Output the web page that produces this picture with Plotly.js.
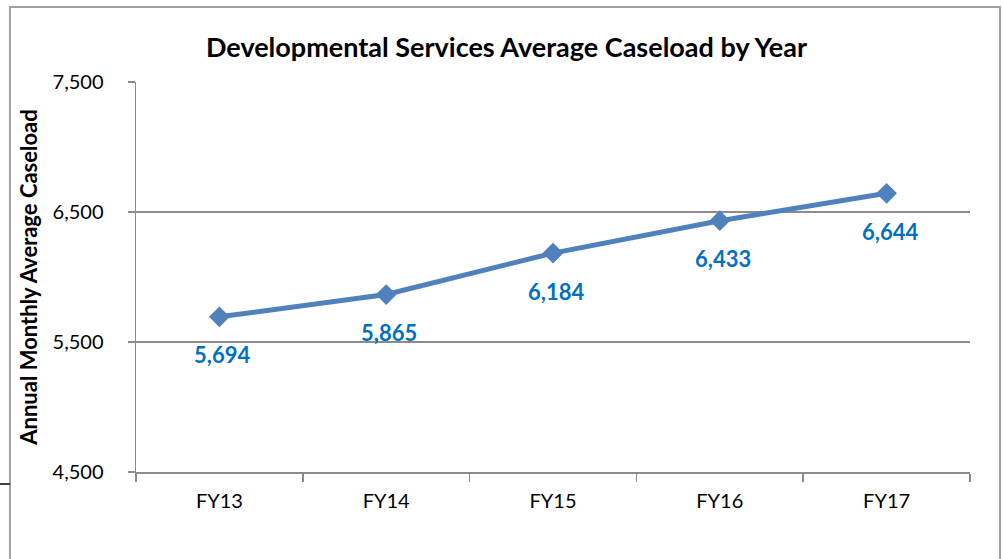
<!DOCTYPE html>
<html>
<head>
<meta charset="utf-8">
<script src="https://cdn.plot.ly/plotly-3.0.1.min.js"></script>
<style>html,body{margin:0;padding:0;background:#fff;}#chart{width:1003px;height:559px;}</style>
</head>
<body>
<div id="chart"></div>
<script>
const years = ["FY13", "FY14", "FY15", "FY16", "FY17"];
const caseload = [5694, 5865, 6184, 6433, 6644];
const yTicks = [4500, 5500, 6500, 7500];
const chartTitle = "Developmental Services Average Caseload by Year";
const yTitle = "Annual Monthly Average Caseload";

const font = "Lato, 'Open Sans', 'Liberation Sans', sans-serif";

const trace = {
  x: years,
  y: caseload,
  type: "scatter",
  mode: "lines+markers",
  line: {color: "#4F81BD", width: 5},
  marker: {symbol: "diamond", size: 16, color: "#4F81BD"},
  hoverinfo: "skip"
};

const annotations = years.map((yr, i) => ({
  x: yr, y: caseload[i], xref: "x", yref: "y",
  text: "<b>" + caseload[i].toLocaleString("en-US") + "</b>",
  showarrow: false, yshift: -38, xshift: 3,
  font: {family: font, size: 22, color: "#0070C0"}
}));

const grey = "#8C8C8C";
const shapes = [
  {type: "rect", xref: "paper", yref: "paper", x0: -0.1511, x1: 1.036, y0: -0.35, y1: 1.1923,
   line: {color: "#A0A0A0", width: 2}, fillcolor: "rgba(0,0,0,0)", layer: "below"},
  {type: "line", xref: "paper", yref: "paper", x0: -0.17, x1: -0.1511, y0: -0.0308, y1: -0.0308,
   line: {color: "#000", width: 1.5}}
];

const layout = {
  width: 1003, height: 559,
  margin: {l: 136, r: 33, t: 82, b: 87},
  paper_bgcolor: "#fff", plot_bgcolor: "#fff",
  showlegend: false,
  title: {text: "<b>" + chartTitle + "</b>", x: 0.505, xanchor: "center", y: 0.915, yanchor: "middle",
          font: {family: font, size: 27, color: "#000"}},
  xaxis: {
    type: "category", range: [-0.5, 4.5],
    showline: true, linecolor: grey, linewidth: 1.5,
    ticks: "outside", tickson: "boundaries", ticklen: 8, tickcolor: grey, tickwidth: 1.5,
    showgrid: false, zeroline: false,
    tickfont: {family: font, size: 20, color: "#000"},
    ticklabelstandoff: 10
  },
  yaxis: {
    range: [4500, 7500], tickvals: yTicks, tickformat: ",",
    showline: true, linecolor: grey, linewidth: 1.5,
    ticks: "outside", ticklen: 7, tickcolor: grey, tickwidth: 1.5,
    showgrid: true, gridcolor: grey, gridwidth: 1.5, zeroline: false,
    tickfont: {family: font, size: 20, color: "#000"},
    ticklabelstandoff: 20,
    title: {text: "<b>" + yTitle + "</b>", font: {family: font, size: 22, color: "#000"}, standoff: 9}
  },
  annotations: annotations,
  shapes: shapes
};

Plotly.newPlot("chart", [trace], layout, {displayModeBar: false, staticPlot: true});
</script>
</body>
</html>
